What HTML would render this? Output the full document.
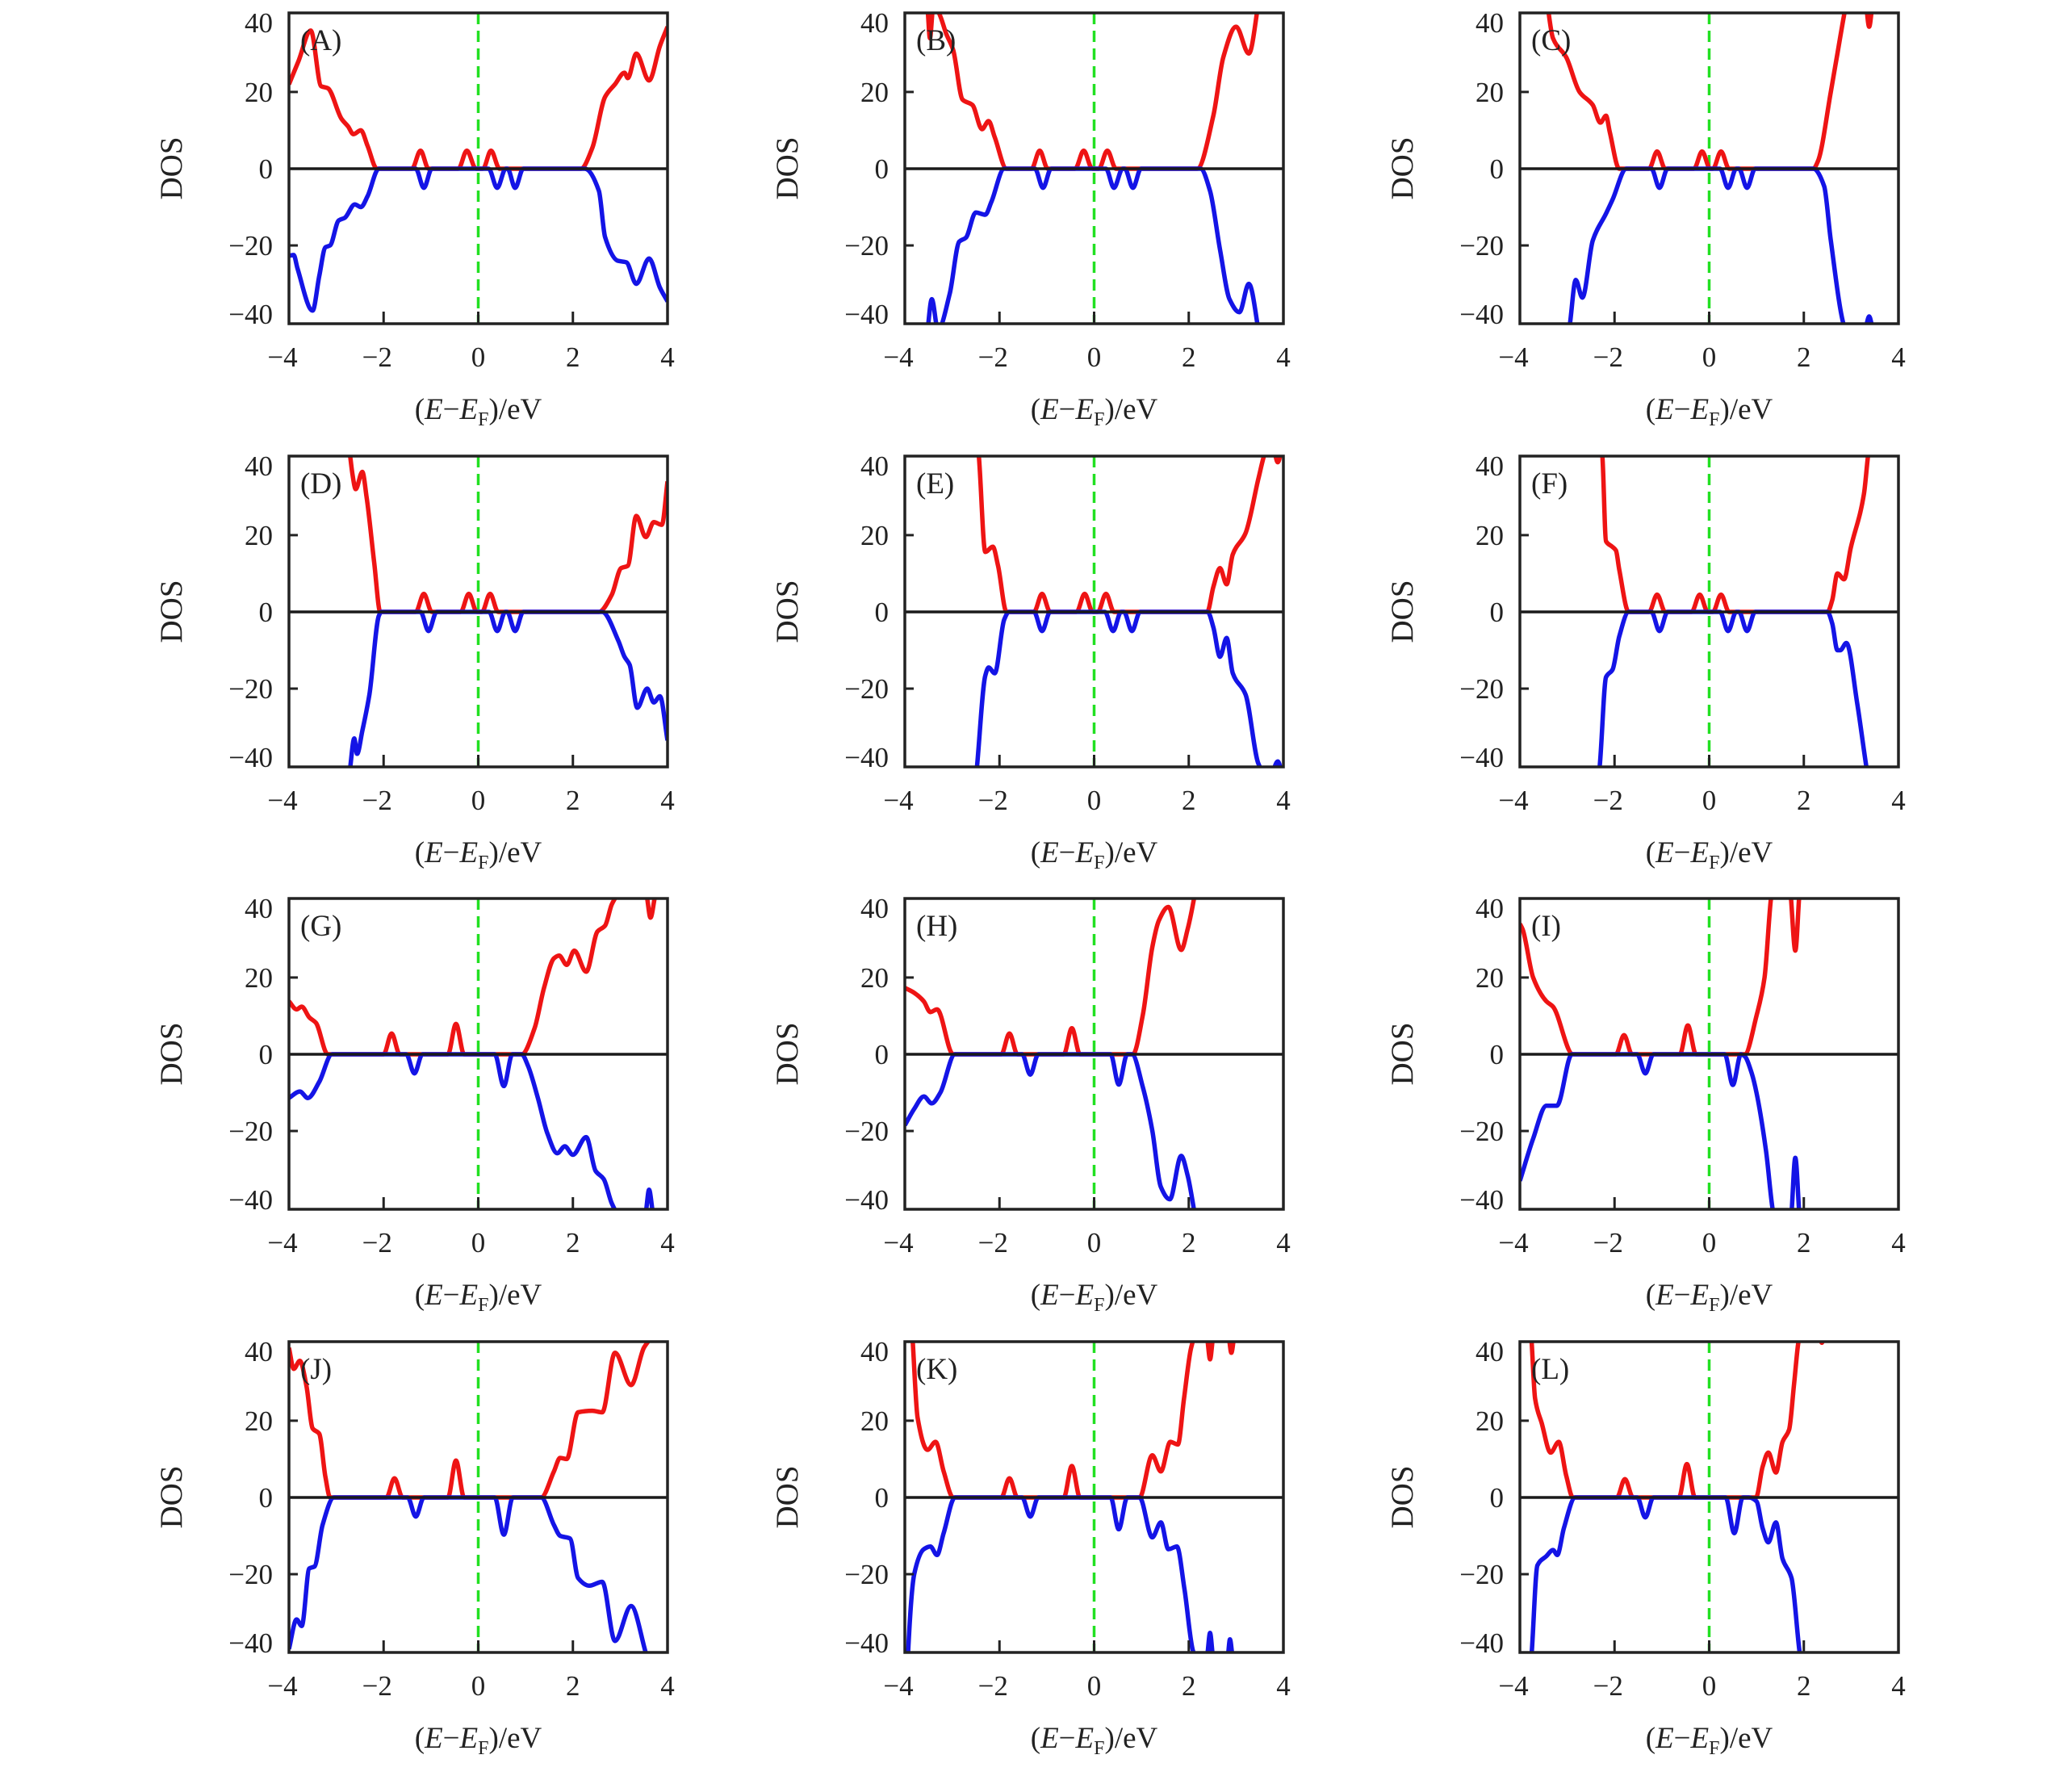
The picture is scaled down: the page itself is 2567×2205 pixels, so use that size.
<!DOCTYPE html>
<html><head><meta charset="utf-8"><style>
html,body{margin:0;padding:0;background:#fff}
svg{display:block}
text{font-family:"Liberation Serif",serif;fill:#222}
</style></head><body>
<svg id="fig" width="2567" height="2205" viewBox="0 0 2567 2205" xmlns="http://www.w3.org/2000/svg"></svg>
<script>
const panelLabels = ["A","B","C","D","E","F","G","H","I","J","K","L"];
const xTicks = [-4,-2,0,2,4];
const yTicks = [40,20,0,-20,-40];
const xDomain = [-4,4];
const yDomain = [-40.4,40.6];

const upA=[[-4,22],[-3.8,28],[-3.54,36],[-3.32,21.5],[-3.18,21],[-2.89,13],[-2.75,11],[-2.64,9],[-2.48,10],[-2.34,6],[-2.14,0],[-1.4,0],[-1.22,4.7],[-1.05,0],[-0.42,0],[-0.24,4.7],[-0.05,0],[0.1,0],[0.27,4.7],[0.45,0],[2.17,0],[2.41,5.4],[2.68,18.7],[2.89,22],[3.09,25],[3.16,23.6],[3.34,30],[3.61,23],[3.84,32],[4,37]];
const dnA=[[-4,-22.7],[-3.9,-22.5],[-3.82,-26],[-3.5,-37],[-3.36,-28],[-3.23,-20.5],[-3.13,-20],[-2.95,-13.5],[-2.82,-12.8],[-2.61,-9.3],[-2.48,-10],[-2.34,-7.2],[-2.1,0],[-1.32,0],[-1.15,-5],[-0.98,0],[0.22,0],[0.4,-5],[0.58,0],[0.62,0],[0.78,-5],[0.95,0],[2.25,0],[2.55,-5.8],[2.68,-17.8],[2.95,-24],[3.13,-24.4],[3.34,-30],[3.61,-23.4],[3.84,-31],[4,-34.6]];
const upB=[[-4,60],[-3.6,50],[-3.52,42],[-3.47,34],[-3.4,42],[-3.3,41],[-3.12,35],[-2.98,31],[-2.78,18],[-2.57,16.6],[-2.37,10.3],[-2.23,12.4],[-2.1,8.2],[-1.85,0],[-1.32,0],[-1.15,4.7],[-0.98,0],[-0.4,0],[-0.22,4.7],[-0.04,0],[0.1,0],[0.28,4.7],[0.46,0],[2.18,0],[2.52,13.8],[2.73,29],[3.0,37],[3.27,30],[3.47,43],[3.6,55],[4,70]];
const dnB=[[-4,-60],[-3.55,-45],[-3.43,-34],[-3.3,-42],[-3.05,-32.5],[-2.85,-19],[-2.71,-18],[-2.5,-11.4],[-2.3,-12],[-2.17,-8.6],[-1.9,0],[-1.25,0],[-1.08,-5],[-0.91,0],[0.25,0],[0.42,-5],[0.6,0],[0.65,0],[0.82,-5],[0.99,0],[2.25,0],[2.45,-5.8],[2.66,-21],[2.86,-34],[3.07,-37.4],[3.27,-30],[3.47,-42],[3.6,-55],[4,-70]];
const upC=[[-4,70],[-3.5,50],[-3.3,34],[-3.02,29],[-2.74,20],[-2.46,16.6],[-2.3,12],[-2.18,13.8],[-2.1,9.5],[-1.9,0],[-1.27,0],[-1.1,4.5],[-0.93,0],[-0.32,0],[-0.15,4.5],[0.02,0],[0.08,0],[0.25,4.5],[0.42,0],[2.2,0],[2.3,2],[2.57,20],[2.71,30],[2.85,40],[3.0,50],[3.3,44],[3.38,37],[3.46,44],[3.7,60],[4,70]];
const dnC=[[-4,-70],[-3.1,-50],[-2.95,-41],[-2.82,-29],[-2.68,-33.6],[-2.46,-18.7],[-2.18,-11.7],[-2.04,-8],[-1.75,0],[-1.22,0],[-1.05,-5],[-0.88,0],[0.23,0],[0.4,-5],[0.57,0],[0.63,0],[0.8,-5],[0.97,0],[2.2,0],[2.43,-4.6],[2.57,-18.7],[2.85,-41],[3.2,-50],[3.32,-41],[3.38,-38.5],[3.44,-41],[3.6,-55],[4,-70]];
const upD=[[-4,70],[-2.8,50],[-2.71,41],[-2.66,36],[-2.59,32],[-2.45,36.5],[-2.36,30],[-2.2,13],[-2.07,0],[-1.32,0],[-1.15,4.7],[-0.98,0],[-0.37,0],[-0.2,4.7],[-0.03,0],[0.08,0],[0.25,4.7],[0.42,0],[2.55,0],[2.82,4.4],[3.02,11.4],[3.16,12],[3.34,25],[3.54,19.5],[3.71,23.4],[3.88,22.7],[4,34]];
const dnD=[[-4,-70],[-2.8,-50],[-2.71,-41],[-2.62,-33],[-2.56,-37],[-2.45,-31],[-2.3,-21.5],[-2.1,-1],[-2.05,0],[-1.22,0],[-1.05,-5],[-0.88,0],[0.23,0],[0.4,-5],[0.57,0],[0.61,0],[0.78,-5],[0.95,0],[2.62,0],[2.96,-7.5],[3.09,-11.7],[3.2,-13.8],[3.36,-25],[3.57,-20],[3.71,-23.6],[3.84,-22],[4,-33.5]];
const upE=[[-4,70],[-2.6,55],[-2.44,41],[-2.3,15.6],[-2.14,17],[-2.03,12],[-1.85,0],[-1.27,0],[-1.1,4.7],[-0.93,0],[-0.37,0],[-0.2,4.7],[-0.03,0],[0.08,0],[0.25,4.7],[0.42,0],[2.39,0],[2.52,6.5],[2.66,11.4],[2.8,7.2],[2.93,15],[3.2,20.5],[3.47,34.6],[3.6,41],[3.75,45],[3.88,39],[4,45]];
const dnE=[[-4,-70],[-2.6,-55],[-2.48,-41],[-2.3,-16.6],[-2.23,-14.5],[-2.1,-16],[-1.9,-2],[-1.8,0],[-1.27,0],[-1.1,-5],[-0.93,0],[0.23,0],[0.4,-5],[0.57,0],[0.63,0],[0.8,-5],[0.97,0],[2.4,0],[2.52,-4],[2.66,-11.7],[2.8,-6.8],[2.93,-16],[3.2,-21.5],[3.47,-39.5],[3.7,-44],[3.88,-39],[4,-44]];
const upF=[[-4,70],[-2.4,50],[-2.26,41],[-2.18,18.4],[-2.05,17],[-1.97,16],[-1.9,11],[-1.7,0],[-1.27,0],[-1.1,4.5],[-0.93,0],[-0.37,0],[-0.2,4.5],[-0.03,0],[0.08,0],[0.25,4.5],[0.42,0],[2.5,0],[2.6,3],[2.71,10],[2.85,8.5],[2.99,16.6],[3.27,30.7],[3.36,41],[3.6,60],[4,70]];
const dnF=[[-4,-70],[-2.45,-50],[-2.32,-41],[-2.18,-17],[-2.04,-15],[-1.9,-6.4],[-1.7,0],[-1.22,0],[-1.05,-5],[-0.88,0],[0.23,0],[0.4,-5],[0.57,0],[0.63,0],[0.8,-5],[0.97,0],[2.5,0],[2.6,-3],[2.71,-10],[2.77,-10],[2.9,-8.1],[3.13,-24],[3.33,-41],[3.6,-60],[4,-70]];
const upG=[[-4,13.8],[-3.84,11.7],[-3.73,12.4],[-3.57,9.6],[-3.43,8.2],[-3.18,0],[-2.0,0],[-1.83,5.4],[-1.66,0],[-0.64,0],[-0.47,7.9],[-0.3,0],[0.92,0],[1.19,6.8],[1.39,17.3],[1.6,25],[1.71,25.7],[1.87,23.3],[2.03,27],[2.28,21.5],[2.52,32],[2.68,33.5],[2.82,39],[2.96,42],[3.3,48],[3.55,42],[3.64,35.6],[3.75,42],[4,50]];
const dnG=[[-4,-11.4],[-3.77,-9.7],[-3.6,-11.4],[-3.36,-7.2],[-3.09,0],[-1.52,0],[-1.35,-5],[-1.18,0],[0.35,0],[0.54,-8.3],[0.72,0],[0.92,0],[1.05,-3],[1.26,-11.4],[1.46,-20.6],[1.67,-25.8],[1.83,-24],[2.0,-26.2],[2.28,-21.6],[2.48,-30.4],[2.65,-32.5],[2.82,-38.8],[2.96,-42],[3.3,-46],[3.53,-42],[3.61,-35.3],[3.7,-42],[4,-50]];
const upH=[[-4,17.3],[-3.8,16],[-3.6,13.8],[-3.46,11],[-3.32,11.7],[-2.98,0],[-1.96,0],[-1.79,5.4],[-1.62,0],[-0.64,0],[-0.47,6.8],[-0.3,0],[0.82,0],[1.03,10.3],[1.23,27.9],[1.37,34.9],[1.57,38.4],[1.84,27.2],[1.98,32.8],[2.11,40.5],[2.3,55],[4,70]];
const dnH=[[-4,-18.5],[-3.8,-14.2],[-3.6,-11],[-3.43,-12.8],[-3.25,-10],[-2.94,0],[-1.52,0],[-1.35,-5.3],[-1.18,0],[0.35,0],[0.52,-7.9],[0.7,0],[0.8,0],[1.03,-8.6],[1.23,-19.9],[1.41,-34.6],[1.6,-37.8],[1.84,-26.5],[1.98,-31.8],[2.11,-40.5],[2.3,-55],[4,-70]];
const upI=[[-4,34],[-3.94,32.5],[-3.72,20],[-3.44,13.8],[-3.3,12.4],[-2.88,0],[-1.97,0],[-1.8,5],[-1.63,0],[-0.62,0],[-0.45,7.5],[-0.28,0],[0.75,0],[1.0,10],[1.17,20],[1.31,41],[1.45,50],[1.7,44],[1.82,27],[1.92,44],[2.1,55],[4,70]];
const dnI=[[-4,-33],[-3.72,-22],[-3.44,-13.4],[-3.22,-13.4],[-2.9,0],[-1.52,0],[-1.35,-5],[-1.18,0],[0.33,0],[0.5,-8],[0.67,0],[0.75,-0.5],[0.9,-5],[1.0,-10],[1.2,-25],[1.35,-41],[1.5,-48],[1.72,-44],[1.82,-27],[1.92,-44],[2.1,-55],[4,-70]];
const upJ=[[-4,39],[-3.9,33.5],[-3.77,35.6],[-3.63,29],[-3.5,18],[-3.36,16.6],[-3.23,5.4],[-3.13,0],[-1.94,0],[-1.77,5],[-1.6,0],[-0.64,0],[-0.47,9.6],[-0.3,0],[1.33,0],[1.6,6.8],[1.73,10.3],[1.87,10],[2.11,22.2],[2.41,22.6],[2.62,22.2],[2.89,37.7],[3.23,29.3],[3.5,39],[3.61,41],[4,50]];
const dnJ=[[-4,-39.5],[-3.84,-31.8],[-3.73,-33.5],[-3.57,-18.5],[-3.46,-18],[-3.29,-7.2],[-3.05,0],[-1.49,0],[-1.32,-5],[-1.15,0],[0.35,0],[0.54,-9.7],[0.73,0],[1.33,0],[1.6,-7.2],[1.73,-10],[1.94,-10.7],[2.11,-21],[2.35,-23],[2.62,-22],[2.89,-37.4],[3.23,-28.3],[3.53,-40],[3.7,-48],[4,-60]];
const upK=[[-4,70],[-3.84,42],[-3.73,20.8],[-3.52,12.4],[-3.35,14.5],[-3.18,6.8],[-2.98,0],[-1.96,0],[-1.79,5],[-1.62,0],[-0.64,0],[-0.47,8.2],[-0.3,0],[0.96,0],[1.23,11],[1.41,6.8],[1.61,14.5],[1.77,13.8],[1.9,25.8],[2.05,39],[2.2,44],[2.38,42],[2.45,36],[2.52,42],[2.7,44],[2.84,42],[2.9,37.7],[2.96,42],[3.2,55],[4,70]];
const dnK=[[-4,-70],[-3.93,-40.2],[-3.8,-19.9],[-3.6,-13.5],[-3.46,-12.8],[-3.32,-15],[-3.18,-9.3],[-2.94,0],[-1.52,0],[-1.35,-5],[-1.18,0],[0.35,0],[0.52,-8.3],[0.7,0],[0.96,0],[1.23,-10.4],[1.41,-6.5],[1.57,-13.5],[1.75,-12.8],[1.91,-24],[2.09,-40],[2.25,-44],[2.38,-42],[2.45,-35.3],[2.52,-42],[2.75,-44],[2.82,-42],[2.87,-37],[2.93,-42],[3.2,-55],[4,-70]];
const upL=[[-4,70],[-3.78,45],[-3.75,40],[-3.68,25.8],[-3.54,19.4],[-3.35,11.7],[-3.18,14.5],[-3.02,5.6],[-2.88,0],[-1.95,0],[-1.78,4.8],[-1.61,0],[-0.64,0],[-0.47,8.7],[-0.3,0],[0.99,0],[1.13,8],[1.25,11.7],[1.41,6.5],[1.55,14.5],[1.69,17.7],[1.79,29],[1.88,40],[2.0,48],[2.3,44],[2.38,40.3],[2.45,44],[2.7,55],[4,70]];
const dnL=[[-4,-70],[-3.8,-48],[-3.75,-40.3],[-3.63,-17.7],[-3.44,-15.3],[-3.3,-13.7],[-3.21,-15],[-3.07,-8],[-2.83,0],[-1.52,0],[-1.35,-5.2],[-1.18,0],[0.35,0],[0.53,-9.3],[0.71,0],[0.84,0],[1.0,-1],[1.13,-8],[1.25,-11.7],[1.41,-6.5],[1.55,-16],[1.74,-21],[1.91,-40.3],[2.1,-55],[4,-70]];

const upSeries=[upA,upB,upC,upD,upE,upF,upG,upH,upI,upJ,upK,upL];
const dnSeries=[dnA,dnB,dnC,dnD,dnE,dnF,dnG,dnH,dnI,dnJ,dnK,dnL];

const NS="http://www.w3.org/2000/svg";
const svg=document.getElementById('fig');
const colLeft=[358,1121,1883], rowTop=[16,565,1113,1662], W=469, H=385;

function mk(tag,parent,attrs){const e=document.createElementNS(NS,tag);for(const k in attrs)e.setAttribute(k,attrs[k]);parent.appendChild(e);return e;}

function monotonePath(pts){
  const n=pts.length; const m=new Array(n); const d=[];
  for(let i=0;i<n-1;i++)d.push((pts[i+1][1]-pts[i][1])/(pts[i+1][0]-pts[i][0]));
  m[0]=d[0]; m[n-1]=d[n-2];
  for(let i=1;i<n-1;i++){ if(d[i-1]*d[i]<=0)m[i]=0; else { const h0=pts[i][0]-pts[i-1][0],h1=pts[i+1][0]-pts[i][0]; const w1=2*h1+h0,w2=h1+2*h0; m[i]=(w1+w2)/(w1/d[i-1]+w2/d[i]); } }
  let s="M"+pts[0][0].toFixed(1)+","+pts[0][1].toFixed(1);
  for(let i=0;i<n-1;i++){const h=(pts[i+1][0]-pts[i][0])/3;
    s+="C"+(pts[i][0]+h).toFixed(1)+","+(pts[i][1]+m[i]*h).toFixed(1)+" "+(pts[i+1][0]-h).toFixed(1)+","+(pts[i+1][1]-m[i+1]*h).toFixed(1)+" "+pts[i+1][0].toFixed(1)+","+pts[i+1][1].toFixed(1);}
  return s;
}

const defs=mk('defs',svg,{});
for(let p=0;p<12;p++){
  const L=colLeft[p%3], T=rowTop[Math.floor(p/3)];
  const sx=v=>L+(v-xDomain[0])/(xDomain[1]-xDomain[0])*W;
  const sy=v=>T+(yDomain[1]-v)/(yDomain[1]-yDomain[0])*H;
  const g=mk('g',svg,{});
  
  
  const cp=mk('clipPath',defs,{id:'clip'+p});
  mk('rect',cp,{x:L,y:T,width:W,height:H});
  const cg=mk('g',g,{'clip-path':'url(#clip'+p+')'});
  const f=mk('line',cg,{x1:sx(0),x2:sx(0),y1:T,y2:T+H,stroke:'#22e022','stroke-width':3.5,'stroke-dasharray':'14 8'});
  
  
  const up=mk('path',cg,{d:monotonePath(upSeries[p].map(q=>[sx(q[0]),sy(q[1])])),fill:'none',stroke:'#ee1414','stroke-width':5.5,'stroke-linejoin':'round'});
  
  
  const dn=mk('path',cg,{d:monotonePath(dnSeries[p].map(q=>[sx(q[0]),sy(q[1])])),fill:'none',stroke:'#1414e6','stroke-width':5.5,'stroke-linejoin':'round'});
  
  
  const z=mk('line',cg,{x1:L,x2:L+W,y1:sy(0),y2:sy(0),stroke:'#1a1a1a','stroke-width':3.5});
  
  
  const box=mk('rect',g,{x:L,y:T,width:W,height:H,fill:'none',stroke:'#222','stroke-width':3.5});
  
  
  xTicks.forEach(v=>{
    if(v>xDomain[0]&&v<xDomain[1]){const t=mk('line',g,{x1:sx(v),x2:sx(v),y1:T+H,y2:T+H-15,stroke:'#222','stroke-width':3});
      
      }
    const tl=mk('text',g,{x:sx(v)+(v<0?-8:0),y:T+H+53,'text-anchor':'middle','font-size':35});
    tl.textContent=(v<0?'\u2212':'')+Math.abs(v);
    
    
  });
  yTicks.forEach(v=>{
    if(v===20||v===-20){const t=mk('line',g,{x1:L,x2:L+11,y1:sy(v),y2:sy(v),stroke:'#222','stroke-width':3});
      
      }
    const off=v===40?9:(v===-40?-10:0);
    const tl=mk('text',g,{x:L-20,y:sy(v)+off+12,'text-anchor':'end','font-size':35});
    tl.textContent=(v<0?'\u2212':'')+Math.abs(v);
    
    
  });
  const yt=mk('text',g,{x:0,y:0,'text-anchor':'middle','font-size':39,transform:'translate('+(L-133)+','+(T+H/2)+') rotate(-90)'});
  yt.textContent='DOS';
  
  
  const xt=mk('text',g,{x:L+W/2,y:T+H+118,'text-anchor':'middle','font-size':37});
  xt.innerHTML='(<tspan font-style="italic">E</tspan>\u2212<tspan font-style="italic">E</tspan><tspan font-size="24" dy="8">F</tspan><tspan dy="-8">)/eV</tspan>';
  
  
  const pl=mk('text',g,{x:L+14,y:T+46,'font-size':37});
  pl.textContent='('+panelLabels[p]+')';
  
  
}
</script>
</body></html>
